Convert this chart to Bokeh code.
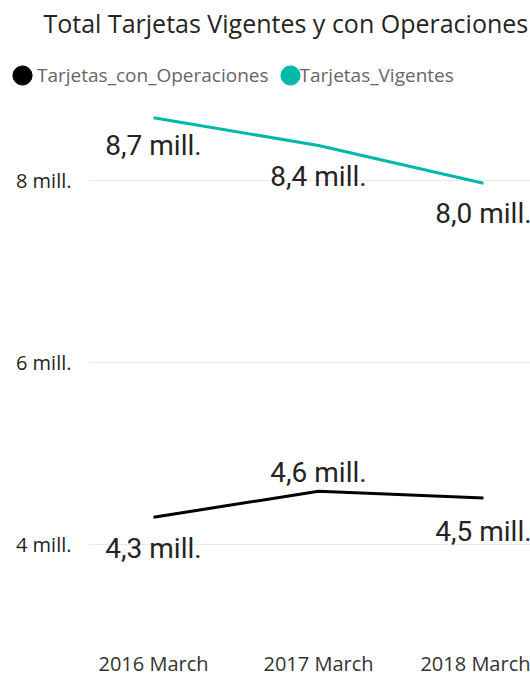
from bokeh.plotting import figure
from bokeh.layouts import column
from bokeh.models import (Range1d, FixedTicker, ColumnDataSource, Legend, LegendItem, Label)
from bokeh.core.properties import value
from bokeh.embed import file_html
from bokeh.resources import INLINE

# ---- data ----
periods = ["2016 March", "2017 March", "2018 March"]
vigentes = [8.69, 8.385, 7.97]          # millions
con_operaciones = [4.30, 4.585, 4.51]   # millions
vigentes_labels = ["8,7 mill.", "8,4 mill.", "8,0 mill."]
operaciones_labels = ["4,3 mill.", "4,6 mill.", "4,5 mill."]
y_ticks = [4, 6, 8]
y_tick_labels = ["4 mill.", "6 mill.", "8 mill."]
series_names = ["Tarjetas_con_Operaciones", "Tarjetas_Vigentes"]
chart_title = "Total Tarjetas Vigentes y con Operaciones"

# ---- styles ----
TEAL = "#01B8AA"
BLACK = "#000000"
TXT = "#252423"
FONT = "Open Sans"
LABEL_FONT = "Roboto"
vig_dy = [28, 31, 30]
ope_dy = [31, -19, 33]

xs = list(range(len(periods)))
W = 530
HEAD_H = 89
MAIN_H = 590
BOTTOM = 56

# ---- header: title + legend ----
head = figure(width=W, height=HEAD_H, output_backend="svg", toolbar_location=None,
              x_range=Range1d(0, 1), y_range=Range1d(0, 1),
              x_axis_type=None, y_axis_type=None, title_location=None,
              min_border=0)
head.frame_align = False
head.outline_line_color = None
head.background_fill_color = "white"
head.border_fill_color = "white"

# legend markers (their points lie outside the header's ranges, so only the legend shows them)
r_o = head.scatter(xs, con_operaciones, size=18, marker="circle",
                   fill_color=BLACK, line_color=BLACK)
r_v = head.scatter(xs, vigentes, size=18, marker="circle",
                   fill_color=TEAL, line_color=TEAL)
# transparent twins that carry the legend texts
t_o = head.scatter(xs, con_operaciones, size=1, fill_alpha=0, line_alpha=0)
t_v = head.scatter(xs, vigentes, size=1, fill_alpha=0, line_alpha=0)

legend_marks = Legend(items=[LegendItem(label=" ", renderers=[r_o]),
                             LegendItem(label=" ", renderers=[r_v])],
                      orientation="horizontal", location=(-2, -10),
                      glyph_width=48, glyph_height=48, label_standoff=0, spacing=220,
                      label_width=0, padding=0, margin=0, border_line_color=None,
                      background_fill_alpha=0, label_text_font_size="1px")
legend_text = Legend(items=[LegendItem(label=series_names[0], renderers=[t_o]),
                            LegendItem(label=series_names[1], renderers=[t_v])],
                     orientation="horizontal", location=(37, 1),
                     glyph_width=0, glyph_height=26, label_standoff=0, spacing=31,
                     padding=0, margin=0, border_line_color=None,
                     background_fill_alpha=0,
                     label_text_font=FONT, label_text_font_size="19px",
                     label_text_color="#666666")
head.add_layout(legend_marks, "center")
head.add_layout(legend_text, "center")

title = Label(x=43, y=HEAD_H - 22, x_units="screen", y_units="screen",
              text=chart_title, text_font=FONT, text_font_size="25px",
              text_color=TXT, text_baseline="middle", text_align="left")
head.add_layout(title)

# ---- main chart ----
p = figure(width=W, height=MAIN_H, output_backend="svg", toolbar_location=None,
           x_range=Range1d(-0.394, 2.285), y_range=Range1d(3.132, 9),
           title_location=None,
           min_border_left=88, min_border_right=0, min_border_top=0,
           min_border_bottom=BOTTOM)
p.frame_align = False
p.outline_line_color = None
p.background_fill_color = "white"
p.border_fill_color = "white"

p.xgrid.grid_line_color = None
p.ygrid.grid_line_color = "#EAEAEA"
p.ygrid.grid_line_width = 1

p.yaxis.ticker = FixedTicker(ticks=y_ticks)
p.yaxis.major_label_overrides = {t: l for t, l in zip(y_ticks, y_tick_labels)}
p.yaxis.axis_line_color = None
p.yaxis.major_tick_line_color = None
p.yaxis.minor_tick_line_color = None
p.yaxis.major_tick_out = 0
p.yaxis.major_tick_in = 0
p.yaxis.major_label_standoff = 17
p.yaxis.major_label_text_font = FONT
p.yaxis.major_label_text_font_size = "20px"
p.yaxis.major_label_text_color = TXT

p.xaxis.ticker = FixedTicker(ticks=xs)
p.xaxis.major_label_overrides = {i: l for i, l in zip(xs, periods)}
p.xaxis.axis_line_color = None
p.xaxis.major_tick_line_color = None
p.xaxis.minor_tick_line_color = None
p.xaxis.major_tick_out = 0
p.xaxis.major_tick_in = 0
p.xaxis.major_label_standoff = 26
p.xaxis.major_label_text_line_height = 1.0
p.xaxis.major_label_text_font = FONT
p.xaxis.major_label_text_font_size = "20px"
p.xaxis.major_label_text_color = "#333333"

src_v = ColumnDataSource(dict(x=xs, y=vigentes, lab=vigentes_labels, dy=vig_dy))
src_o = ColumnDataSource(dict(x=xs, y=con_operaciones, lab=operaciones_labels, dy=ope_dy))

p.line("x", "y", source=src_v, line_color=TEAL, line_width=3)
p.line("x", "y", source=src_o, line_color=BLACK, line_width=3)

for src in (src_v, src_o):
    p.text("x", "y", text="lab", source=src, y_offset="dy",
           text_align="center", text_baseline="middle",
           text_font=value(LABEL_FONT), text_font_size="28px", text_color=TXT)

layout = column(head, p, spacing=0)
open("out.html", "w").write(file_html(layout, INLINE))
